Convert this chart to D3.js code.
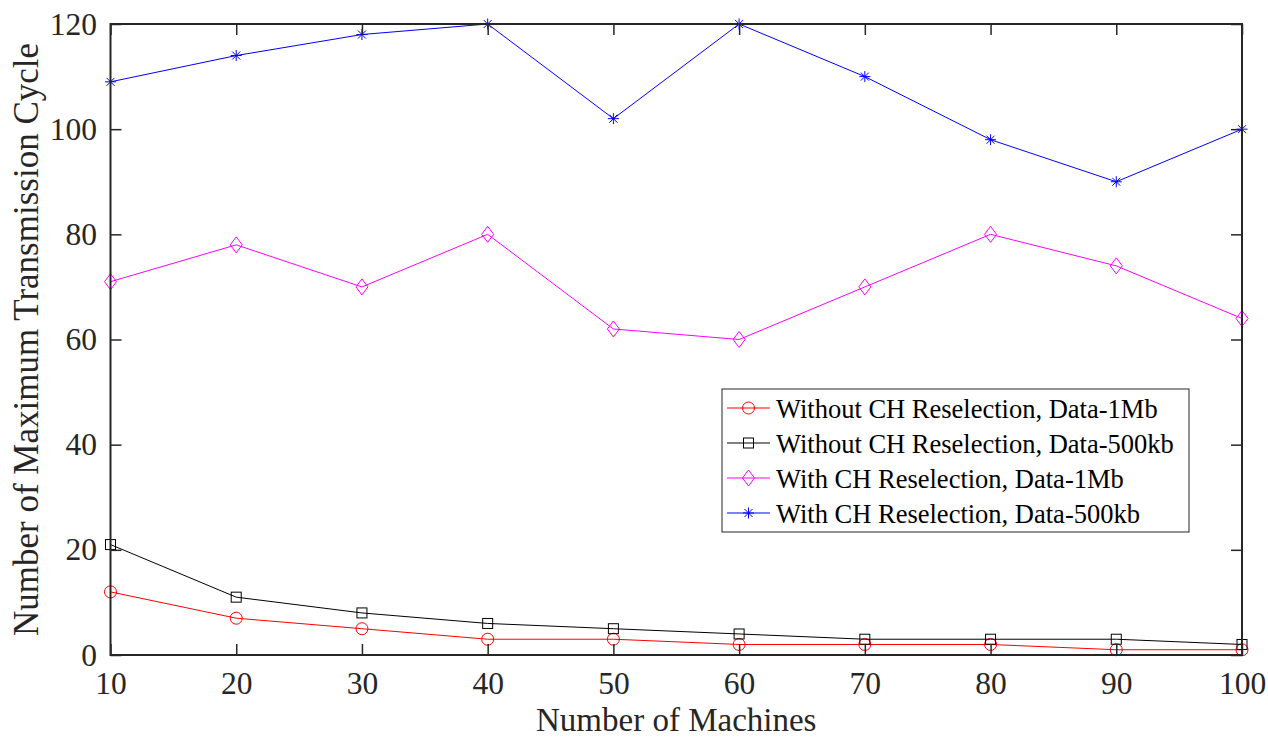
<!DOCTYPE html>
<html><head><meta charset="utf-8">
<script src="https://cdn.jsdelivr.net/npm/d3@7"></script>
<style>body{margin:0;background:#fff}svg{display:block}</style>
</head><body>
<svg id="c" width="1268" height="738"></svg>
<script>
const machines = [10,20,30,40,50,60,70,80,90,100];
const withoutCH1Mb = [12,7,5,3,3,2,2,2,1,1];
const withoutCH500kb = [21,11,8,6,5,4,3,3,3,2];
const withCH1Mb = [71,78,70,80,62,60,70,80,74,64];
const withCH500kb = [109,114,118,120,102,120,110,98,90,100];
const xTicks = [10,20,30,40,50,60,70,80,90,100];
const yTicks = [0,20,40,60,80,100,120];
const seriesNames = ["Without CH Reselection, Data-1Mb","Without CH Reselection, Data-500kb","With CH Reselection, Data-1Mb","With CH Reselection, Data-500kb"];

const series = [
  {name: seriesNames[0], values: withoutCH1Mb, color: "#ff0000", marker: "circle"},
  {name: seriesNames[1], values: withoutCH500kb, color: "#000000", marker: "square"},
  {name: seriesNames[2], values: withCH1Mb, color: "#ff00ff", marker: "diamond"},
  {name: seriesNames[3], values: withCH500kb, color: "#0000ff", marker: "star"}
];

const svg = d3.select("#c");
const L = 110.5, R = 1242, T = 24, B = 655;
const x = d3.scaleLinear().domain([10,100]).range([L,R]);
const y = d3.scaleLinear().domain([0,120]).range([B,T]);
const font = "'Liberation Serif','Times New Roman',serif";
const axisColor = "#262626";

function drawMarker(g, type, color, cx, cy) {
  if (type === "circle") {
    g.append("circle").attr("cx",cx).attr("cy",cy).attr("r",6)
      .attr("fill","none").attr("stroke",color).attr("stroke-width",1);
  } else if (type === "square") {
    g.append("rect").attr("x",cx-5).attr("y",cy-5).attr("width",10).attr("height",10)
      .attr("fill","none").attr("stroke",color).attr("stroke-width",1);
  } else if (type === "diamond") {
    g.append("path").attr("d",`M${cx},${cy-8}L${cx+6},${cy}L${cx},${cy+8}L${cx-6},${cy}Z`)
      .attr("fill","none").attr("stroke",color).attr("stroke-width",1);
  } else if (type === "star") {
    const s = 5.5, d = 4;
    g.append("path").attr("d",`M${cx-s},${cy}L${cx+s},${cy}M${cx},${cy-s}L${cx},${cy+s}M${cx-d},${cy-d}L${cx+d},${cy+d}M${cx-d},${cy+d}L${cx+d},${cy-d}`)
      .attr("fill","none").attr("stroke",color).attr("stroke-width",1);
  }
}

// series
const line = d3.line().x((d,i)=>x(machines[i])).y(d=>y(d));
series.forEach(s => {
  const g = svg.append("g");
  g.append("path").attr("d", line(s.values)).attr("fill","none")
    .attr("stroke", s.color).attr("stroke-width",1);
  s.values.forEach((v,i) => drawMarker(g, s.marker, s.color, x(machines[i]), y(v)));
});

// axes (ticks inward)
const tl = 11;
const xb = svg.append("g").attr("transform",`translate(0,${B})`)
  .call(d3.axisBottom(x).tickValues(xTicks).tickSize(-tl).tickSizeOuter(0));
const xt = svg.append("g").attr("transform",`translate(0,${T})`)
  .call(d3.axisTop(x).tickValues(xTicks).tickSize(-tl).tickFormat("").tickSizeOuter(0));
const yl = svg.append("g").attr("transform",`translate(${L},0)`)
  .call(d3.axisLeft(y).tickValues(yTicks).tickSize(-tl).tickPadding(13.5).tickSizeOuter(0));
const yr = svg.append("g").attr("transform",`translate(${R},0)`)
  .call(d3.axisRight(y).tickValues(yTicks).tickSize(-tl).tickFormat("").tickSizeOuter(0));
[xb,xt,yl,yr].forEach(a => {
  a.select(".domain").remove();
  a.selectAll(".tick line").attr("stroke",axisColor).attr("stroke-width",1.5);
  a.selectAll("text").attr("font-family",font).attr("font-size",31.5).attr("fill",axisColor);
});
xb.selectAll("text").attr("y",38.5).attr("dy",0);
svg.append("rect").attr("x",L).attr("y",T).attr("width",R-L).attr("height",B-T)
  .attr("fill","none").attr("stroke",axisColor).attr("stroke-width",2);

// axis titles
svg.append("text").attr("x",(L+R)/2).attr("y",730.5).attr("text-anchor","middle")
  .attr("font-family",font).attr("font-size",33).attr("fill",axisColor).text("Number of Machines");
svg.append("text").attr("transform",`translate(38,${(T+B)/2}) rotate(-90)`).attr("text-anchor","middle")
  .attr("font-family",font).attr("font-size",35).attr("fill",axisColor).text("Number of Maximum Transmission Cycle");

// legend
const lg = svg.append("g");
const lx = 722, ly = 389, lw = 467, lh = 143;
lg.append("rect").attr("x",lx).attr("y",ly).attr("width",lw).attr("height",lh)
  .attr("fill","#fff").attr("stroke","#262626").attr("stroke-width",1);
series.forEach((s,i) => {
  const cy = ly + 19 + i*35;
  lg.append("line").attr("x1",lx+5).attr("x2",lx+48).attr("y1",cy).attr("y2",cy)
    .attr("stroke",s.color).attr("stroke-width",1);
  drawMarker(lg, s.marker, s.color, lx+26.5, cy);
  lg.append("text").attr("x",lx+54).attr("y",cy).attr("dy","0.38em")
    .attr("font-family",font).attr("font-size",26.5).attr("fill","#000").text(s.name);
});
</script>
</body></html>
